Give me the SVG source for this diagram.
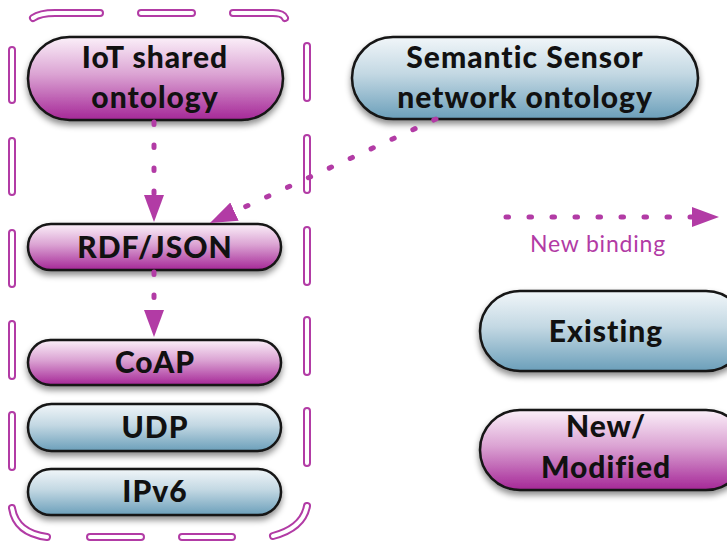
<svg xmlns="http://www.w3.org/2000/svg" xmlns:xlink="http://www.w3.org/1999/xlink" width="727" height="545" viewBox="0 0 727 545">
  <defs>
    <linearGradient id="gPink" x1="0" y1="0" x2="0" y2="1">
      <stop offset="0" stop-color="#fbf0f9"/>
      <stop offset="0.45" stop-color="#dba3d3"/>
      <stop offset="1" stop-color="#a52797"/>
    </linearGradient>
    <linearGradient id="gBlue" x1="0" y1="0" x2="0" y2="1">
      <stop offset="0" stop-color="#f1f6f9"/>
      <stop offset="0.45" stop-color="#c3d8e3"/>
      <stop offset="1" stop-color="#6b9fba"/>
    </linearGradient>
    <filter id="shadow" x="-10%" y="-20%" width="120%" height="160%">
      <feDropShadow dx="0" dy="4" stdDeviation="3" flood-color="#000" flood-opacity="0.45"/>
    </filter>
    <marker id="arrow" markerUnits="userSpaceOnUse" markerWidth="28" markerHeight="22" refX="0" refY="10" orient="auto">
      <path d="M0,0 L27,10 L0,20 z" fill="#b23ba5"/>
    </marker>
    <path id="frameDashes" d="M33 18 Q40 13 55 13 L100 13 M141 13 L192 13 M233 13 L273 13 Q283 13 285 18
      M12 50 L12 100 M12 141 L12 192 M12 233 L12 284 M12 324 L12 376 M12 415 L12 467
      M12 508 Q16 533 47 537 M90 537 L141 537 M182 537 L232 537 M273 536 Q303 528 307 506
      M307 46 L307 98 M307 138 L307 190 M307 230 L307 282 M307 320 L307 372 M307 411 L307 463"/>
  </defs>
  <style>
    .node { stroke: #151515; stroke-width: 2.5; filter: url(#shadow); }
    .pink { fill: url(#gPink); }
    .blue { fill: url(#gBlue); }
    .lbl { font-family: Lato, "Open Sans", "DejaVu Sans", sans-serif; font-weight: 900; font-size: 30px; letter-spacing: 1px; font-variant-ligatures: none; fill: #111; text-anchor: middle; }
    .conn { fill: none; stroke: #b23ba5; stroke-width: 5; stroke-linecap: round; stroke-dasharray: 2.5 20.5; }
    .frameOuter { fill: none; stroke: #b23ba5; stroke-width: 8; stroke-linecap: round; }
    .frameInner { fill: none; stroke: #fff; stroke-width: 4; stroke-linecap: round; }
    .legendText { font-family: Lato, "Open Sans", "DejaVu Sans", sans-serif; font-size: 23px; letter-spacing: 0.8px; fill: #b23ba5; text-anchor: middle; }
  </style>
  <rect width="727" height="545" fill="#fff"/>

  <g id="frame">
    <use xlink:href="#frameDashes" class="frameOuter"/>
    <use xlink:href="#frameDashes" class="frameInner"/>
  </g>

  <g id="iot-shared-ontology">
    <rect class="node pink" x="28" y="37" width="255" height="83" rx="41.5"/>
    <text class="lbl" x="155" y="68">IoT shared</text>
    <text class="lbl" x="155" y="108">ontology</text>
  </g>
  <g id="semantic-sensor-network-ontology">
    <rect class="node blue" x="352" y="37" width="346" height="82" rx="41"/>
    <text class="lbl" x="525" y="68">Semantic Sensor</text>
    <text class="lbl" x="525" y="108">network ontology</text>
  </g>
  <g id="rdf-json">
    <rect class="node pink" x="28" y="224" width="253" height="46" rx="23"/>
    <text class="lbl" x="155" y="258">RDF/JSON</text>
  </g>
  <g id="coap">
    <rect class="node pink" x="28" y="340" width="253" height="45" rx="22.5"/>
    <text class="lbl" x="155" y="373">CoAP</text>
  </g>
  <g id="udp">
    <rect class="node blue" x="28" y="404" width="253" height="47" rx="23.5"/>
    <text class="lbl" x="155" y="438">UDP</text>
  </g>
  <g id="ipv6">
    <rect class="node blue" x="28" y="469" width="253" height="46" rx="23"/>
    <text class="lbl" x="155" y="502">IPv6</text>
  </g>
  <g id="legend-existing">
    <rect class="node blue" x="480" y="291" width="266" height="80" rx="40"/>
    <text class="lbl" x="606" y="342">Existing</text>
  </g>
  <g id="legend-new-modified">
    <rect class="node pink" x="480" y="410" width="266" height="80" rx="40"/>
    <text class="lbl" x="606" y="437">New/</text>
    <text class="lbl" x="606" y="478">Modified</text>
  </g>

  <g id="connectors">
    <path class="conn" d="M154 122 L154 195" marker-end="url(#arrow)"/>
    <path class="conn" d="M154 272 L154 310" marker-end="url(#arrow)"/>
    <path class="conn" d="M436 119 L234.5 211.7" marker-end="url(#arrow)"/>
    <path class="conn" d="M506 217 L692 217" marker-end="url(#arrow)"/>
  </g>
  <g id="legend-binding">
    <text class="legendText" x="598" y="252">New binding</text>
  </g>
</svg>
